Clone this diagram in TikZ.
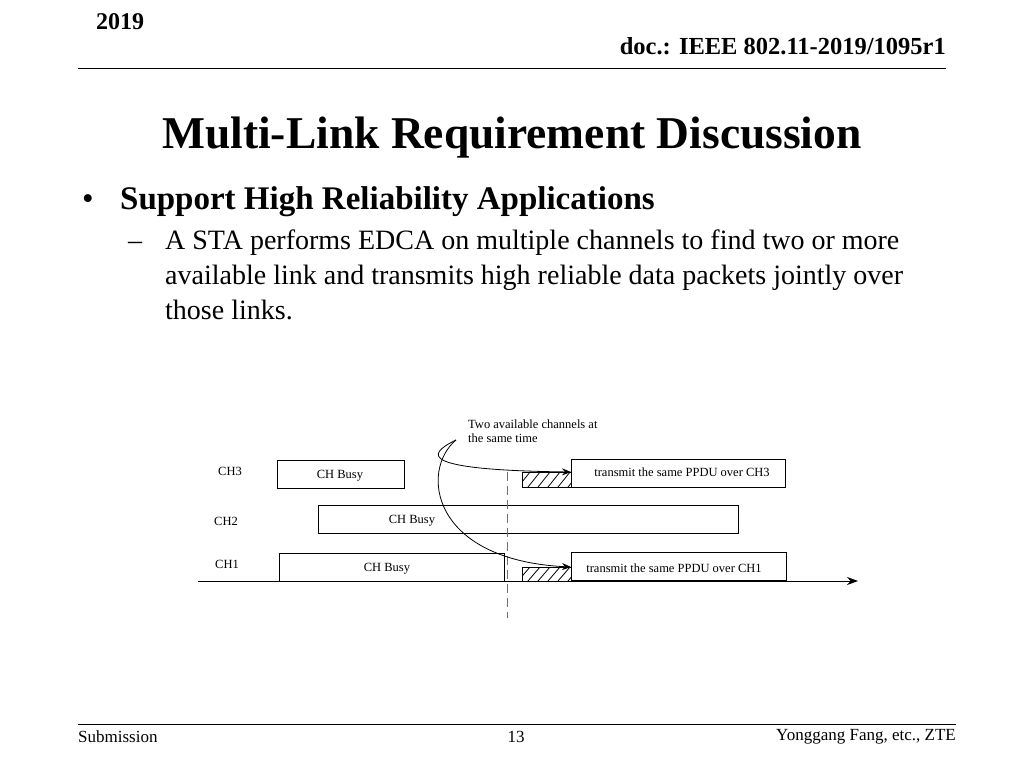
\documentclass[tikz,border=0pt]{standalone}
\usepackage{fontspec}
\setmainfont{Liberation Serif}
\usetikzlibrary{arrows.meta}
\definecolor{markgreen}{RGB}{0,168,100}
\tikzset{
	every node/.style={inner sep=0pt},
	busy/.style={draw, thick, fill=white},
	chlabel/.style={font=\fontsize{12.5}{15}\selectfont},
	boxtext/.style={font=\fontsize{12.5}{15}\selectfont},
	myarrow/.style={-{Stealth[length=9pt,width=7pt]}, thick},
}
\newcommand{\hatchbox}[4]{% x1,y1,x2,y2
	\draw[thick] (#1,#2) rectangle (#3,#4);
	\begin{scope}
		\clip (#1,#2) rectangle (#3,#4);
		\foreach \k in {0,...,5}
			\draw[thick] ({#1+\k*10-4},#4) -- ({#1+\k*10+8},#2);
	\end{scope}
}
\begin{document}
\begin{tikzpicture}[x=1pt,y=-1pt]
	\useasboundingbox (0,0) rectangle (1024,768);
	% header and footer
	\node[anchor=west, font=\fontsize{24}{28}\selectfont\bfseries] (year) at (96,22) {2019};
	\node[anchor=east, font=\fontsize{24.5}{28}\selectfont\bfseries] (doc) at (946,46) {doc.: IEEE 802.11-2019/1095r1};
	\draw (78,68) -- (946,68);
	\node[font=\fontsize{45.5}{52}\selectfont\bfseries] (title) at (512,138) {Multi-Link Requirement Discussion};
	\node[anchor=west, font=\fontsize{33}{38}\selectfont] (bul) at (82,202) {\textbullet};
	\node[anchor=west, font=\fontsize{33}{38}\selectfont\bfseries] (head) at (120,202) {Support High Reliability Applications};
	\node[anchor=west, font=\fontsize{28}{32}\selectfont] (dash) at (128,246) {--};
	\node[anchor=north west, align=left, font=\fontsize{28}{35}\selectfont] (body) at (165,230)
		{A STA performs EDCA on multiple channels to find two or more\\available link and transmits high reliable data packets jointly over\\those links.};
	\draw (78,724) -- (956,724);
	\node[anchor=west, font=\fontsize{17}{20}\selectfont] (sub) at (78,737) {Submission};
	\node[font=\fontsize{17}{20}\selectfont] (page) at (516,737) {13};
	\node[anchor=east, font=\fontsize{17}{20}\selectfont] (auth) at (956,737) {Yonggang Fang, etc., ZTE};
	% diagram
	\draw[-{Stealth[length=11pt,width=8pt]}, thick] (198,581) coordinate (t0) -- (858,581) coordinate (t1);
	\node[chlabel] (ch3) at (230,471) {CH3};
	\node[chlabel] (ch2) at (226,521) {CH2};
	\node[chlabel] (ch1) at (227,564) {CH1};
	\draw[busy] (318,505) rectangle (738,533);
	\node[boxtext] (b2) at (412,521) {CH Busy};
	\draw[busy] (277,460) rectangle (404,488);
	\node[boxtext] (b3) at (340,476) {CH Busy};
	\draw[busy] (279,553) rectangle (504,581);
	\node[boxtext] (b1) at (387,569) {CH Busy};
	\hatchbox{522}{472}{571}{487}
	\hatchbox{522}{567}{571}{581}
	\draw[busy] (571,459) rectangle (785,487);
	\node[boxtext] (t3) at (682,472) {transmit the same PPDU over CH3};
	\draw[busy] (571,552) rectangle (786,580);
	\node[boxtext] (tx1) at (674,568) {transmit the same PPDU over CH1};
	\draw[thick, draw=markgreen, dash pattern=on 9pt off 5pt] (507,472) -- (507,618);
	\node[anchor=north west, align=left, font=\fontsize{12.5}{14}\selectfont] (note) at (468,420)
		{Two available channels at\\the same time};
	\coordinate (src) at (456,440);
	\draw[myarrow] (src) .. controls (425,455) and (420,470) .. (571,472);
	\draw[myarrow] (src) .. controls (420,470) and (430,560) .. (571,567);
\end{tikzpicture}
\end{document}
